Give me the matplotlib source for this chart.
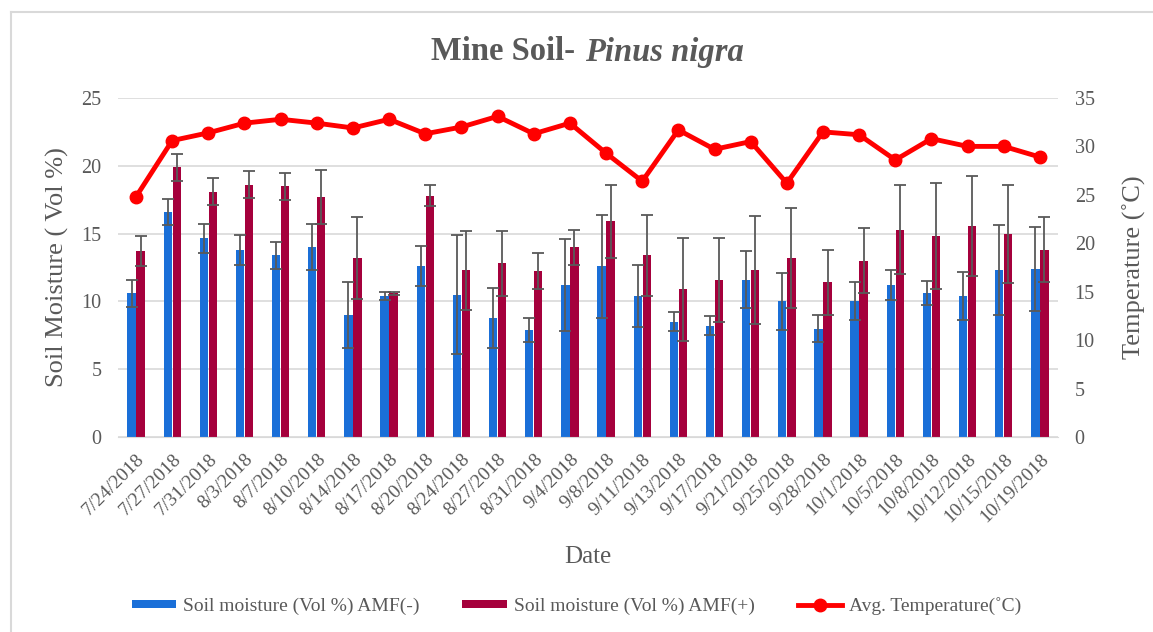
import numpy as np
import matplotlib.pyplot as plt
from matplotlib.lines import Line2D

plt.rcParams['font.family'] = ['Liberation Serif', 'DejaVu Serif']

dates = ['7/24/2018', '7/27/2018', '7/31/2018', '8/3/2018', '8/7/2018', '8/10/2018',
         '8/14/2018', '8/17/2018', '8/20/2018', '8/24/2018', '8/27/2018', '8/31/2018',
         '9/4/2018', '9/8/2018', '9/11/2018', '9/13/2018', '9/17/2018', '9/21/2018',
         '9/25/2018', '9/28/2018', '10/1/2018', '10/5/2018', '10/8/2018', '10/12/2018',
         '10/15/2018', '10/19/2018']

amf_minus = [10.6, 16.6, 14.65, 13.8, 13.4, 14.0, 9.0, 10.4, 12.6, 10.5, 8.8, 7.9, 11.2,
             12.6, 10.4, 8.5, 8.2, 11.6, 10.0, 8.0, 10.05, 11.2, 10.6, 10.4, 12.3, 12.4]
amf_minus_err = [1.0, 0.95, 1.05, 1.1, 1.0, 1.7, 2.4, 0.3, 1.5, 4.4, 2.2, 0.9, 3.4,
                 3.8, 2.3, 0.7, 0.7, 2.1, 2.1, 1.0, 1.4, 1.1, 0.9, 1.8, 3.3, 3.1]

amf_plus = [13.7, 19.9, 18.1, 18.6, 18.5, 17.7, 13.2, 10.6, 17.8, 12.3, 12.8, 12.25, 14.0,
            15.9, 13.4, 10.9, 11.6, 12.3, 13.2, 11.4, 13.0, 15.3, 14.85, 15.55, 14.95, 13.8]
amf_plus_err = [1.1, 1.0, 1.0, 1.0, 1.0, 2.0, 3.0, 0.1, 0.8, 2.9, 2.4, 1.3, 1.3,
                2.7, 3.0, 3.8, 3.1, 4.0, 3.7, 2.4, 2.4, 3.3, 3.9, 3.7, 3.6, 2.4]

temp = [24.8, 30.6, 31.4, 32.4, 32.8, 32.4, 31.9, 32.8, 31.3, 32.0, 33.1, 31.3, 32.4,
        29.3, 26.4, 31.7, 29.7, 30.5, 26.2, 31.5, 31.2, 28.6, 30.8, 30.0, 30.0, 28.9]

gray = '#595959'
blue = '#1a6fd8'
crimson = '#a5003c'

fig = plt.figure(figsize=(11.53, 6.32), dpi=100)
ax = fig.add_axes([0.1023, 0.3085, 0.8153, 0.5365])
ax2 = ax.twinx()

x = np.arange(len(dates))
w = 0.23
err_kw = dict(ecolor=gray, elinewidth=1.3, capsize=4, capthick=1.3)
ax.bar(x - 0.125, amf_minus, w, yerr=amf_minus_err, color=blue, error_kw=err_kw,
       label='Soil moisture (Vol %) AMF(-)', zorder=2)
ax.bar(x + 0.125, amf_plus, w, yerr=amf_plus_err, color=crimson, error_kw=err_kw,
       label='Soil moisture (Vol %) AMF(+)', zorder=2)
ax2.plot(x, temp, color='#ff0000', lw=3.5, marker='o', ms=9,
         label='Avg. Temperature(˚C)')

ax.set_xlim(-0.5, len(dates) - 0.5)
ax.set_ylim(0, 25)
ax.set_yticks(np.arange(0, 26, 5))
ax2.set_ylim(0, 35)
ax2.set_yticks(np.arange(0, 36, 5))
ax.grid(axis='y', color='#d9d9d9', lw=1.2, zorder=0)
ax.set_axisbelow(True)

for a in (ax, ax2):
    for s in a.spines.values():
        s.set_visible(False)
    a.tick_params(length=0, colors=gray, labelsize=14.5)
ax.spines['bottom'].set_visible(True)
ax.spines['bottom'].set_color('#d9d9d9')

ax.set_xticks(x)
ax.set_xticklabels(dates, rotation=45, ha='right', rotation_mode='anchor', fontsize=14)
ax.tick_params(axis='x', pad=10)
ax.tick_params(axis='y', pad=12)
ax2.tick_params(axis='y', pad=12)

ax.set_ylabel('Soil Moisture ( Vol %)', fontsize=19, color=gray, labelpad=9)
ax2.set_ylabel('Temperature (˚C)', fontsize=19, color=gray, labelpad=20)
fig.text(588 / 1153, 1 - 557 / 632, 'Date', fontsize=18, color=gray, ha='center', va='center')

fig.text(583 / 1153, 1 - 52 / 632, 'Mine Soil- ', fontsize=23.5, fontweight='bold',
         color=gray, ha='right', va='center')
fig.text(585 / 1153, 1 - 52 / 632, 'Pinus nigra', fontsize=23.5, fontweight='bold',
         fontstyle='italic', color=gray, ha='left', va='center')

h1, l1 = ax.get_legend_handles_labels()
h2, l2 = ax2.get_legend_handles_labels()
leg = fig.legend(h1 + h2, l1 + l2, ncol=3, frameon=False, loc='center',
                 bbox_to_anchor=(0.5, 1 - 606 / 632), fontsize=14, handlelength=2.3,
                 handleheight=0.3, columnspacing=2.2, handletextpad=0.35)
for t in leg.get_texts():
    t.set_color(gray)

fig.add_artist(Line2D([11 / 1153, 11 / 1153], [0, 1 - 12 / 632], color='#d9d9d9', lw=1.5))
fig.add_artist(Line2D([11 / 1153, 1], [1 - 12 / 632, 1 - 12 / 632], color='#d9d9d9', lw=1.5))

fig.savefig('out.png', dpi=100)
